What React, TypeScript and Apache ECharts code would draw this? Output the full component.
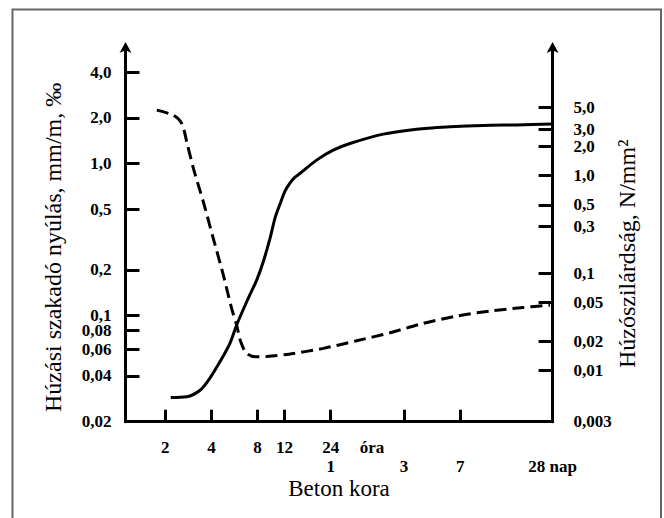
import React, { useEffect, useRef } from 'react';
import * as echarts from 'echarts';

// Age of concrete, hours (x axis, log scale)
const hourTickValues = [2, 4, 8, 12, 24];
const hourTickLabels = ['2', '4', '8', '12', '24'];
const dayTickValues = [24, 72, 168, 672];
const dayTickLabels = ['1', '3', '7', '28 nap'];
const xTickMarks = [2, 4, 8, 12, 24, 72, 168];

// Left axis: ultimate tensile strain, mm/m (‰)
const strainTickValues = [0.02, 0.04, 0.06, 0.08, 0.1, 0.2, 0.5, 1, 2, 4];
const strainTickLabels = ['0,02', '0,04', '0,06', '0,08', '0,1', '0,2', '0,5', '1,0', '2,0', '4,0'];
const strainTickMarks = [0.04, 0.06, 0.08, 0.1, 0.2, 0.5, 1, 2, 4];

// Right axis: tensile strength, N/mm²
const strengthTickValues = [0.003, 0.01, 0.02, 0.05, 0.1, 0.3, 0.5, 1, 2, 3, 5];
const strengthTickLabels = ['0,003', '0,01', '0,02', '0,05', '0,1', '0,3', '0,5', '1,0', '2,0', '3,0', '5,0'];
const strengthTickMarks = [0.01, 0.02, 0.05, 0.1, 0.3, 0.5, 1, 2, 3, 5];

// Solid curve: tensile strength (right axis)
const strengthHours = [2.17, 2.76, 3.37, 3.91, 4.55, 5.28, 5.84, 6.79, 7.89, 8.71, 9.64, 10.39, 11.2, 12.07, 13.0, 14.03, 15.1, 19.4, 24.9, 32.0, 52.8, 87.3, 143.9, 237, 392, 672];
const tensileStrength = [0.0053, 0.0054, 0.0063, 0.0084, 0.0124, 0.0191, 0.0294, 0.0509, 0.0849, 0.131, 0.227, 0.367, 0.51, 0.693, 0.837, 0.964, 1.05, 1.44, 1.82, 2.13, 2.66, 2.99, 3.16, 3.27, 3.31, 3.37];

// Dashed curve: ultimate tensile strain (left axis)
const strainHours = [1.76, 2.26, 2.56, 2.76, 3.05, 3.54, 4.11, 4.78, 5.42, 5.84, 6.21, 6.79, 7.89, 9.17, 13.0, 21.5, 35.4, 58.4, 96.4, 159, 262, 433, 646];
const tensileStrain = [2.25, 2.08, 1.84, 1.39, 0.93, 0.56, 0.322, 0.185, 0.111, 0.0865, 0.0671, 0.0564, 0.0535, 0.0537, 0.0558, 0.0608, 0.0682, 0.077, 0.0888, 0.0992, 0.107, 0.113, 0.117];

const FONT = 'Liberation Serif, Times New Roman, serif';

const pick = (values: number[], labels: string[]) => (v: number) => {
  const i = values.findIndex((t) => Math.abs(Math.log(t) - Math.log(v)) < 1e-6);
  return i >= 0 ? labels[i] : '';
};

const tickLabelStyle = {
  fontSize: 17,
  lineHeight: 14,
  fontWeight: 'bold' as const,
  fontFamily: FONT,
  color: '#000',
};

export default function App() {
  const ref = useRef<HTMLDivElement>(null);
  useEffect(() => {
    document.body.style.margin = '0';
    if (!ref.current) return;
    const chart = echarts.init(ref.current, null, { renderer: 'svg' });
    const xBase = { type: 'log' as const, logBase: 10, min: 1.1, max: 672, gridIndex: 0, splitLine: { show: false }, minorTick: { show: false } };
    chart.setOption({
      animation: false,
      backgroundColor: '#fff',
      grid: { left: 125.5, right: 111.4, top: 46, bottom: 96.3, containLabel: false, outerBoundsMode: 'none' },
      xAxis: [
        {
          ...xBase,
          position: 'bottom',
          axisLine: { show: true, onZero: false, lineStyle: { color: '#000', width: 3 } },
          axisTick: { show: true, inside: true, length: 12, customValues: xTickMarks, lineStyle: { color: '#000', width: 3 } },
          axisLabel: { ...tickLabelStyle, customValues: hourTickValues, formatter: pick(hourTickValues, hourTickLabels), margin: 19, hideOverlap: false },
          name: 'Beton kora',
          nameLocation: 'middle',
          nameGap: 58,
          nameTextStyle: { fontSize: 23, lineHeight: 18, fontFamily: FONT, color: '#000' },
        },
        {
          ...xBase,
          position: 'bottom',
          axisLine: { show: false },
          axisTick: { show: false },
          axisLabel: { ...tickLabelStyle, customValues: dayTickValues, formatter: pick(dayTickValues, dayTickLabels), margin: 38, hideOverlap: false },
        },
      ],
      yAxis: [
        {
          type: 'log',
          logBase: 10,
          min: 0.02,
          max: 5.95,
          position: 'left',
          splitLine: { show: false },
          minorTick: { show: false },
          axisLine: { show: true, onZero: false, symbol: ['none', 'arrow'], symbolSize: [9, 11], symbolOffset: [0, 4], lineStyle: { color: '#000', width: 3 } },
          axisTick: { show: true, inside: true, length: 14, customValues: strainTickMarks, lineStyle: { color: '#000', width: 3 } },
          axisLabel: { ...tickLabelStyle, customValues: strainTickValues, formatter: pick(strainTickValues, strainTickLabels), margin: 14, hideOverlap: false },
          name: 'Húzási szakadó nyúlás, mm/m, ‰',
          nameLocation: 'middle',
          nameGap: 61,
          nameTextStyle: { fontSize: 24, fontFamily: FONT, color: '#000', padding: [0, 27, 0, 0] },
        },
        {
          type: 'log',
          logBase: 10,
          min: 0.003,
          max: 21.3,
          position: 'right',
          splitLine: { show: false },
          minorTick: { show: false },
          axisLine: { show: true, onZero: false, symbol: ['none', 'arrow'], symbolSize: [9, 11], symbolOffset: [0, 4], lineStyle: { color: '#000', width: 3 } },
          axisTick: { show: true, inside: true, length: 14, customValues: strengthTickMarks, lineStyle: { color: '#000', width: 3 } },
          axisLabel: { ...tickLabelStyle, customValues: strengthTickValues, formatter: pick(strengthTickValues, strengthTickLabels), margin: 21, hideOverlap: false },
          name: 'Húzószilárdság, N/mm²',
          nameLocation: 'middle',
          nameMoveOverlap: false,
          nameGap: 62,
          nameTextStyle: { fontSize: 24, fontFamily: FONT, color: '#000', padding: [0, 40, 0, 0] },
        },
      ],
      series: [
        {
          type: 'line',
          name: 'Húzószilárdság',
          xAxisIndex: 0,
          yAxisIndex: 1,
          data: strengthHours.map((h, i) => [h, tensileStrength[i]]),
          symbol: 'none',
          smooth: 0.3,
          lineStyle: { color: '#000', width: 3 },
        },
        {
          type: 'line',
          name: 'Húzási szakadó nyúlás',
          xAxisIndex: 0,
          yAxisIndex: 0,
          data: strainHours.map((h, i) => [h, tensileStrain[i]]),
          symbol: 'none',
          smooth: 0.3,
          lineStyle: { color: '#000', width: 3, type: [12, 6] },
        },
      ],
      graphic: [
        {
          type: 'rect',
          silent: true,
          z: -10,
          shape: { x: 12.5, y: 9.5, width: 648.5, height: 530 },
          style: { fill: 'none', stroke: '#666', lineWidth: 2 },
        },
        {
          type: 'text',
          x: 372,
          y: 447.5,
          style: { text: 'óra', fill: '#000', fontSize: 17, fontWeight: 'bold', fontFamily: FONT, textAlign: 'center', textVerticalAlign: 'middle' },
        },
      ],
    });
    return () => chart.dispose();
  }, []);
  return <div ref={ref} style={{ width: 664, height: 518 }} />;
}
